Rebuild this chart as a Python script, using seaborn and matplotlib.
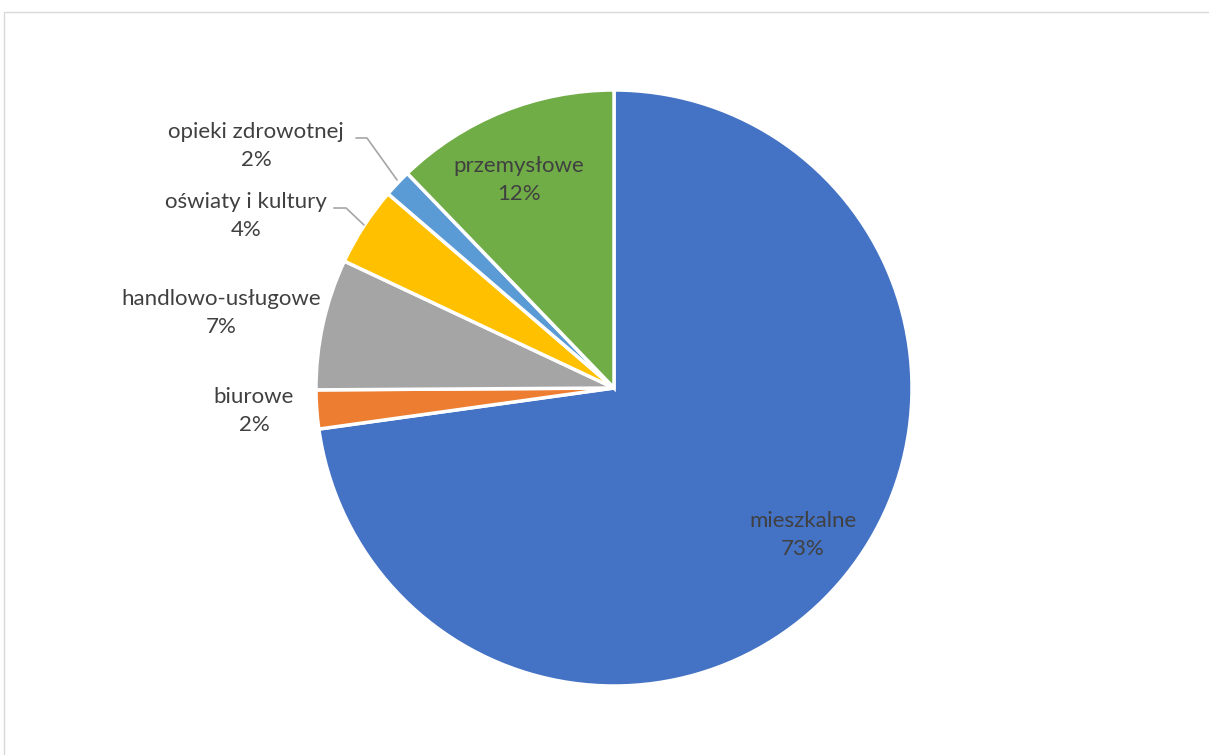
import matplotlib.pyplot as plt
import seaborn as sns
from matplotlib.patches import Rectangle

# dane
categories = ["mieszkalne", "biurowe", "handlowo-usługowe", "oświaty i kultury",
              "opieki zdrowotnej", "przemysłowe"]
shares = [72.8, 2.1, 7.1, 4.3, 1.5, 12.2]
pct_labels = ["73%", "2%", "7%", "4%", "2%", "12%"]
colors = ["#4472C4", "#ED7D31", "#A5A5A5", "#FFC000", "#5B9BD5", "#70AD47"]

# pozycje etykiet (w promieniach koła)
label_pos = [(0.634, -0.493), (-1.208, -0.077), (-1.319, 0.252),
             (-1.235, 0.577), (-1.201, 0.812), (-0.319, 0.698)]

sns.set_theme(style="white")
plt.rcParams['font.family'] = ['Lato', 'DejaVu Sans']

W, H = 1209, 755
fig = plt.figure(figsize=(W / 100, H / 100), dpi=100)
cx, cy, r = 614, 388, 298
ax = fig.add_axes([(cx - r) / W, (H - cy - r) / H, 2 * r / W, 2 * r / H])

ax.pie(shares, colors=colors, startangle=90, counterclock=False,
       wedgeprops=dict(edgecolor="white", linewidth=2.5))
ax.set_xlim(-1, 1)
ax.set_ylim(-1, 1)
ax.set_aspect("equal")
ax.axis("off")

for name, pct, (x, y) in zip(categories, pct_labels, label_pos):
    ax.text(x, y, f"{name}\n{pct}", ha="center", va="center", fontsize=16,
            color="#404040", linespacing=1.45, clip_on=False)

# linie odniesienia
leader = "#A6A6A6"
ax.plot([-0.866, -0.829, -0.728], [0.839, 0.839, 0.698], color=leader, lw=1.2, clip_on=False)
ax.plot([-0.940, -0.899, -0.839], [0.604, 0.604, 0.547], color=leader, lw=1.2, clip_on=False)

fig.add_artist(Rectangle((4 / W, -0.1), 1.1, (H - 12) / H + 0.1, transform=fig.transFigure,
                         fill=False, edgecolor="#D9D9D9", lw=1))

fig.savefig("out.png", dpi=100)
